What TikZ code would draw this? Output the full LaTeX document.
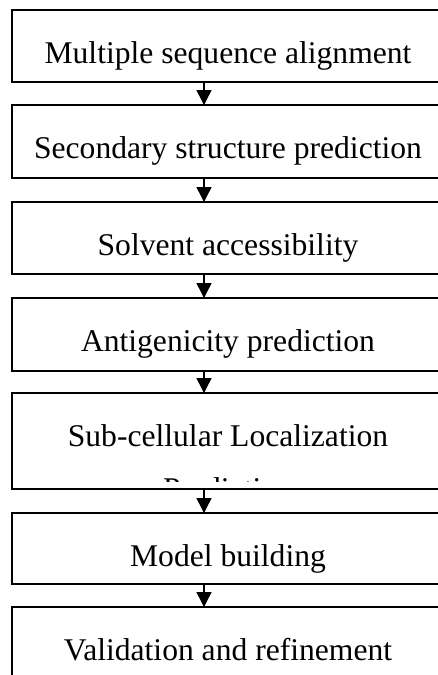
\documentclass[tikz,border=0pt]{standalone}
\usepackage{fontspec}
\setmainfont{Liberation Serif}
\usetikzlibrary{arrows.meta}
\begin{document}
\begin{tikzpicture}[x=1pt,y=-1pt,
  stagefont/.style={font=\fontsize{31.6}{36}\selectfont},
  stage/.style={draw=black, line width=1.5pt, inner sep=0pt, outer sep=0pt,
    minimum width=432pt, anchor=north, text height=53pt, text depth=19pt, stagefont},
  flow/.style={line width=1.5pt, -{Triangle[width=15pt,length=15pt]}}]
\useasboundingbox (0,0) rectangle (438,675);
\clip (0,0) rectangle (438,675);
% x position of the connecting arrows
\coordinate (ax) at (204,0);
% pipeline stages
\node[stage] (s1) at (228,10) {Multiple sequence alignment};
\node[stage, text depth=20pt] (s2) at (228,105) {Secondary structure prediction};
\node[stage] (s3) at (228,202) {Solvent accessibility};
\node[stage, text depth=20pt] (s4) at (228,298) {Antigenicity prediction};
\node[stage, text depth=43pt] (s5) at (228,393) {Sub-cellular Localization};
% second line of the fifth stage, cut off by the text area
\begin{scope}
  \clip (12,393) rectangle (444,481);
  \node[stagefont, anchor=base, inner sep=0pt] (s5b) at (228,499) {Prediction};
\end{scope}
\node[stage, text depth=18pt] (s6) at (228,513) {Model building};
\node[stage] (s7) at (228,607) {Validation and refinement};
% connectors
\foreach \a/\b in {s1/s2, s2/s3, s3/s4, s4/s5, s5/s6, s6/s7}
  \draw[flow] (\a.south -| ax) -- (\b.north -| ax);
\end{tikzpicture}
\end{document}
